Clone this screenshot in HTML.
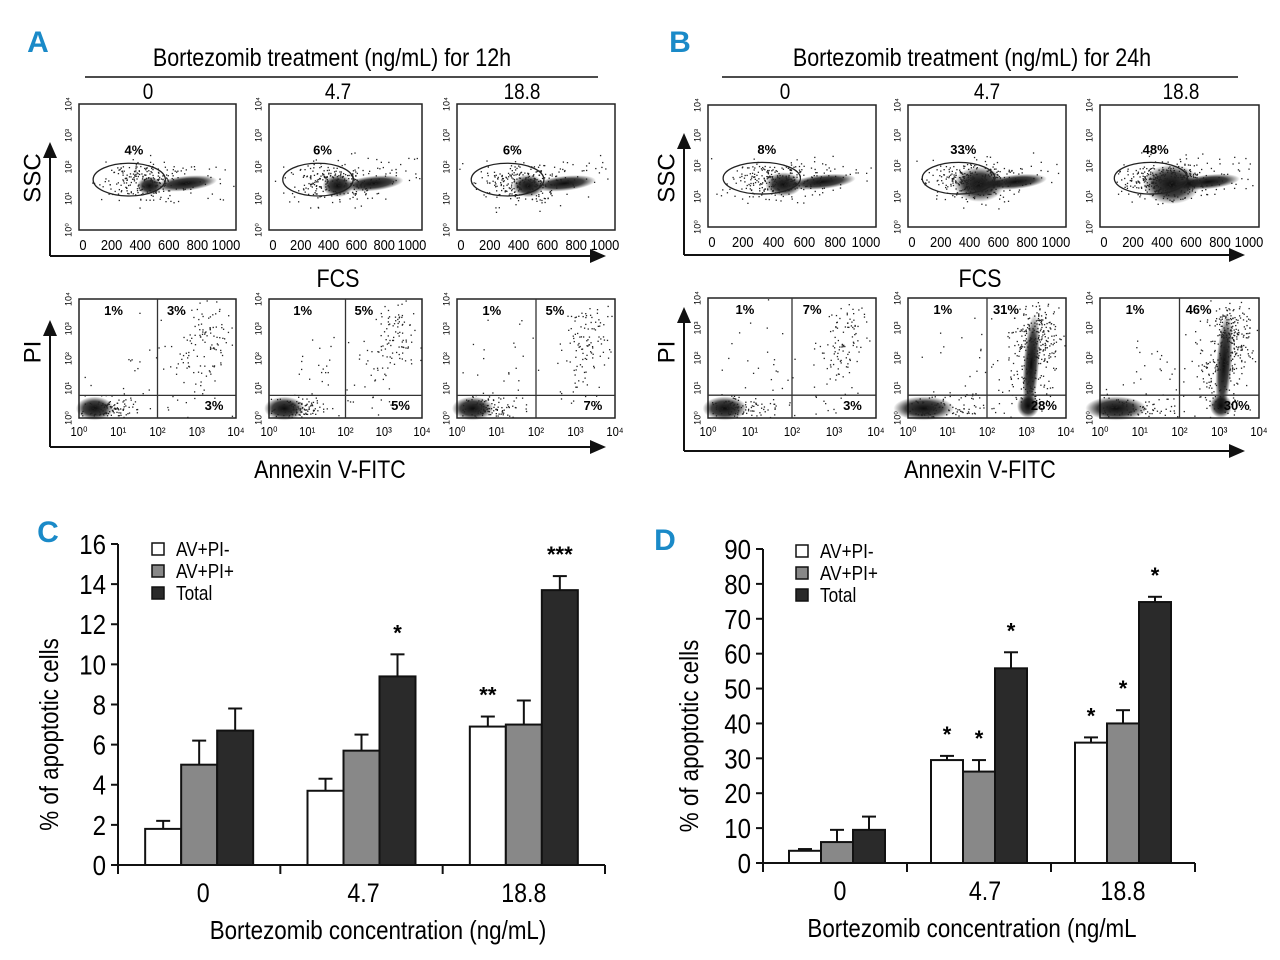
<!DOCTYPE html>
<html><head><meta charset="utf-8">
<style>
html,body{margin:0;padding:0;background:#fff;}
body{width:1280px;height:960px;overflow:hidden;position:relative;font-family:"Liberation Sans Narrow","Liberation Sans",sans-serif;}
svg{position:absolute;left:0;top:0;}
text{font-family:"Liberation Sans Narrow","Liberation Sans",sans-serif;}
</style></head>
<body>
<svg id="fig" width="1280" height="960" viewBox="0 0 1280 960">
<defs>
<radialGradient id="blob"><stop offset="0" stop-color="#000" stop-opacity="0.95"/><stop offset="0.6" stop-color="#000" stop-opacity="0.75"/><stop offset="1" stop-color="#000" stop-opacity="0"/></radialGradient>
</defs>
<g id="panels"></g>
<g id="chartC"></g>
<g id="chartD"></g>
</svg>
<script>
// ---------- bar chart data ----------
const categories = ["0","4.7","18.8"];
const seriesNames = ["AV+PI-","AV+PI+","Total"];
const cWhite = [1.8,3.7,6.9];
const cWhiteErr = [0.4,0.6,0.5];
const cGray = [5.0,5.7,7.0];
const cGrayErr = [1.2,0.8,1.2];
const cBlack = [6.7,9.4,13.7];
const cBlackErr = [1.1,1.1,0.7];
const cStars = [["","",""],["","","*"],["**","","***"]];
const cTicks = [0,2,4,6,8,10,12,14,16];
const dWhite = [3.5,29.5,34.5];
const dWhiteErr = [0.5,1.2,1.5];
const dGray = [6.0,26.2,40.0];
const dGrayErr = [3.5,3.3,3.8];
const dBlack = [9.5,55.8,74.8];
const dBlackErr = [3.8,4.6,1.5];
const dStars = [["","",""],["*","*","*"],["*","*","*"]];
const dTicks = [0,10,20,30,40,50,60,70,80,90];

const NS="http://www.w3.org/2000/svg";
function mk(parent,tag,attrs,txt){const e=document.createElementNS(NS,tag);for(const k in attrs)e.setAttribute(k,attrs[k]);if(txt!==undefined)e.textContent=txt;parent.appendChild(e);return e;}

function barChart(g,cfg){
  const {x0,x1,y0,y1,max,ticks,series,errs,stars,bw}=cfg;
  const yS=v=>y0-(v/max)*(y0-y1);
  const gw=(x1-x0)/categories.length;
  const fills=["#ffffff","#888888","#2a2a2a"];
  categories.forEach((c,ci)=>{
    const cx=x0+gw*(ci+0.5)+cfg.off[ci];
    series.forEach((s,si)=>{
      const bx=cx-1.5*bw+si*bw;
      const top=yS(s[ci]);
      const eTop=yS(s[ci]+errs[si][ci]);
      const ex=bx+bw/2;
      const el=mk(g,"line",{x1:ex,y1:top,x2:ex,y2:eTop,stroke:"#111","stroke-width":2});
      
      
      const cap=mk(g,"line",{x1:ex-7,y1:eTop,x2:ex+7,y2:eTop,stroke:"#111","stroke-width":2});
      
      
      const r=mk(g,"rect",{x:bx,y:top,width:bw,height:y0-top,fill:fills[si],stroke:"#111","stroke-width":2});
      
      
      if(stars[ci][si]){
        const t=mk(g,"text",{x:ex,y:eTop-14,"text-anchor":"middle","font-size":22,"font-weight":"bold"},stars[ci][si]);
        
        
      }
    });
    const lab=mk(g,"text",{x:x0+gw*(ci+0.5)+cfg.labOff[ci],y:y0+37,"text-anchor":"middle","font-size":27},c);
    
    
    const tk=mk(g,"line",{x1:x0+gw*(ci+1),y1:y0,x2:x0+gw*(ci+1),y2:y0+9,stroke:"#111","stroke-width":2});
    
    
  });
  const ya=mk(g,"line",{x1:x0,y1:y1,x2:x0,y2:y0+9,stroke:"#111","stroke-width":2});
  
  
  const xa=mk(g,"line",{x1:x0-7,y1:y0,x2:x1,y2:y0,stroke:"#111","stroke-width":2});
  
  
  ticks.forEach(t=>{
    const y=yS(t);
    const l=mk(g,"line",{x1:x0-7,y1:y,x2:x0,y2:y,stroke:"#111","stroke-width":2});
    
    
    const tx=mk(g,"text",{x:x0-12,y:y+10,"text-anchor":"end","font-size":28},t);
    
    
  });
  seriesNames.forEach((n,i)=>{
    const ly=cfg.legY+i*22;
    const s=mk(g,"rect",{x:cfg.legX,y:ly-6,width:12,height:12,fill:fills[i],stroke:"#111","stroke-width":1.5});
    
    
    const t=mk(g,"text",{x:cfg.legX+24,y:ly+7,"font-size":20},n);
    
    
  });
  const yt=mk(g,"text",{x:0,y:0,"text-anchor":"middle","font-size":26,"data-rot":"1",transform:`translate(${cfg.ytX},${(y0+y1)/2+30}) rotate(-90)`},"% of apoptotic cells");
  
  
  const xt=mk(g,"text",{x:cfg.xtX,y:y0+74,"text-anchor":"middle","font-size":26},cfg.xTitle);
  
  
}

barChart(document.getElementById("chartC"),{x0:118,x1:605,y0:865,y1:544,max:16,ticks:cTicks,
  series:[cWhite,cGray,cBlack],errs:[cWhiteErr,cGrayErr,cBlackErr],stars:cStars,bw:36,off:[0,0,0],labOff:[4,2,0],
  legX:152,legY:549,ytX:58,xtX:378,xTitle:"Bortezomib concentration (ng/mL)"});
barChart(document.getElementById("chartD"),{x0:763,x1:1195,y0:863,y1:549,max:90,ticks:dTicks,
  series:[dWhite,dGray,dBlack],errs:[dWhiteErr,dGrayErr,dBlackErr],stars:dStars,bw:32,off:[2,0,0],labOff:[5,6,0],
  legX:796,legY:551,ytX:698,xtX:972,xTitle:"Bortezomib concentration (ng/mL"});

// ---------- flow cytometry panels (decorative) ----------
const P=document.getElementById("panels");
function txt(x,y,s,size,opt){return mk(P,"text",Object.assign({x:x,y:y,"font-size":size,"text-anchor":"middle"},opt||{}),s);}
function arrowH(x1,x2,y){mk(P,"line",{x1:x1,y1:y,x2:x2-12,y2:y,stroke:"#111","stroke-width":2});mk(P,"polygon",{points:`${x2},${y} ${x2-16},${y-7} ${x2-16},${y+7}`,fill:"#111"});}
function arrowV(x,y1,y2){mk(P,"line",{x1:x,y1:y2,x2:x,y2:y1+12,stroke:"#111","stroke-width":2});mk(P,"polygon",{points:`${x},${y1} ${x-7},${y1+16} ${x+7},${y1+16}`,fill:"#111"});}
let seed=7;function rnd(){seed=(seed*16807)%2147483647;return seed/2147483647;}
function dots(cx,cy,sx,sy,n,box){for(let i=0;i<n;i++){const a=rnd()*6.283,r=Math.sqrt(-2*Math.log(rnd()+1e-6));let x=cx+Math.cos(a)*r*sx,y=cy+Math.sin(a)*r*sy;if(x<box[0]+1||x>box[0]+box[2]-1||y<box[1]+1||y>box[1]+box[3]-1)continue;mk(P,"rect",{x:x,y:y,width:1.3,height:1.3,fill:"#222"});}}
function blob(cx,cy,rx,ry,rot){mk(P,"ellipse",{cx:cx,cy:cy,rx:rx,ry:ry,fill:"url(#blob)",transform:`rotate(${rot||0} ${cx} ${cy})`});}
const bold={"font-weight":"bold","font-family":"Liberation Sans"};

function ssBox(x,y,w,h,pct,dens){
  const b=[x,y,w,h];
  const r=mk(P,"rect",{x:x,y:y,width:w,height:h,fill:"#fff",stroke:"#222","stroke-width":1.5});
  
  
  blob(x+w*0.68,y+h*0.63,w*0.2,h*0.06,-6);
  blob(x+w*0.45,y+h*0.65,w*0.1*dens,h*0.09*dens,0);
  dots(x+w*0.45,y+h*0.62,w*0.14,h*0.08,80+dens*120,b);
  dots(x+w*0.3,y+h*0.62,w*0.1,h*0.08,60,b);
  dots(x+w*0.75,y+h*0.55,w*0.18,h*0.08,30,b);
  mk(P,"ellipse",{cx:x+w*0.32,cy:y+h*0.6,rx:w*0.23,ry:h*0.13,fill:"none",stroke:"#222","stroke-width":1.3});
  txt(x+w*0.35,y+h*0.4,pct,13,bold);
  ["10⁰","10¹","10²","10³","10⁴"].forEach((s,i)=>{txt(x-10,y+h-i*h/4,s,9,{"data-rot":"1",transform:`rotate(-90 ${x-10} ${y+h-i*h/4})`,"dominant-baseline":"middle"});});
  ["0","200","400","600","800","1000"].forEach((s,i)=>txt(x+4+i*(w-14)/5,y+h+20,s,15));
}
function avBox(x,y,w,h,p,streak,tail){
  const b=[x,y,w,h];
  const r=mk(P,"rect",{x:x,y:y,width:w,height:h,fill:"#fff",stroke:"#222","stroke-width":1.5});
  
  
  const qy=y+h*0.81,qx=x+w*0.5;
  blob(x+w*0.1,y+h*0.92,w*0.12*tail,h*0.1,0);
  dots(x+w*0.18,y+h*0.92,w*0.1*tail,h*0.05,120,b);
  dots(x+w*0.4,y+h*0.6,w*0.15,h*0.2,30,b);
  if(streak){blob(x+w*0.78,y+h*0.55,w*0.05,h*0.42,4);blob(x+w*0.76,y+h*0.9,w*0.07,h*0.1,0);}
  dots(x+w*0.82,y+h*0.3,w*0.07,h*0.15,streak?200:80,b);
  dots(x+w*0.75,y+h*0.6,w*0.08,h*0.2,streak?150:40,b);
  mk(P,"line",{x1:x,y1:qy,x2:x+w,y2:qy,stroke:"#333","stroke-width":1.3});
  mk(P,"line",{x1:qx,y1:y,x2:qx,y2:y+h,stroke:"#333","stroke-width":1.3});
  txt(x+w*0.22,y+16,p[0],13,bold);
  txt(x+w*0.62,y+16,p[1],13,bold);
  txt(x+w*0.86,y+h-8,p[2],13,bold);
  ["10⁰","10¹","10²","10³","10⁴"].forEach((s,i)=>{txt(x-10,y+h-i*h/4,s,9,{"data-rot":"1",transform:`rotate(-90 ${x-10} ${y+h-i*h/4})`,"dominant-baseline":"middle"});});
  ["10⁰","10¹","10²","10³","10⁴"].forEach((s,i)=>txt(x+i*w/4,y+h+18,s,13));
}
// Panel A
txt(38,52,"A",30,{"font-weight":"bold",fill:"#1a8ac8","font-family":"Liberation Sans"});
txt(332,66,"Bortezomib treatment (ng/mL) for 12h",25);
mk(P,"line",{x1:85,y1:77,x2:598,y2:77,stroke:"#111","stroke-width":1.5});
[[148,"0"],[338,"4.7"],[522,"18.8"]].forEach(a=>txt(a[0],99,a[1],22));
ssBox(79,104,157,126,"4%",0.8);ssBox(269,104,153,126,"6%",1);ssBox(457,104,158,126,"6%",1);
arrowH(50,606,256);arrowV(50,142,256);
txt(34,178,"SSC",24,{"data-rot":"1",transform:"rotate(-90 34 178)","dominant-baseline":"middle"});
txt(338,287,"FCS",25);
avBox(79,299,157,119,["1%","3%","3%"],false,1);avBox(269,299,153,119,["1%","5%","5%"],false,1.1);avBox(457,299,158,119,["1%","5%","7%"],false,1.1);
arrowH(50,606,447);arrowV(50,320,447);
txt(34,352,"PI",24,{"data-rot":"1",transform:"rotate(-90 34 352)","dominant-baseline":"middle"});
txt(330,478,"Annexin V-FITC",25);
// Panel B
txt(680,52,"B",30,{"font-weight":"bold",fill:"#1a8ac8","font-family":"Liberation Sans"});
txt(972,66,"Bortezomib treatment (ng/mL) for 24h",25);
mk(P,"line",{x1:722,y1:77,x2:1238,y2:77,stroke:"#111","stroke-width":1.5});
[[785,"0"],[987,"4.7"],[1181,"18.8"]].forEach(a=>txt(a[0],99,a[1],22));
ssBox(708,105,168,122,"8%",1.1);ssBox(908,105,158,122,"33%",1.6);ssBox(1100,105,159,122,"48%",1.8);
arrowH(684,1245,255);arrowV(684,133,255);
txt(668,178,"SSC",24,{"data-rot":"1",transform:"rotate(-90 668 178)","dominant-baseline":"middle"});
txt(980,287,"FCS",25);
avBox(708,298,168,120,["1%","7%","3%"],false,1.1);avBox(908,298,158,120,["1%","31%","28%"],true,1.6);avBox(1100,298,159,120,["1%","46%","30%"],true,1.6);
arrowH(684,1245,451);arrowV(684,307,451);
txt(668,352,"PI",24,{"data-rot":"1",transform:"rotate(-90 668 352)","dominant-baseline":"middle"});
txt(980,478,"Annexin V-FITC",25);
txt(48,542,"C",30,{"font-weight":"bold",fill:"#1a8ac8","font-family":"Liberation Sans"});
txt(665,550,"D",30,{"font-weight":"bold",fill:"#1a8ac8","font-family":"Liberation Sans"});

// condense text horizontally to mimic a narrow typeface
const SX=0.86;
document.querySelectorAll("text").forEach(t=>{
  if(t.getAttribute("font-weight")==="bold")return;
  const tr=t.getAttribute("transform");
  if(t.getAttribute("data-rot")){
    if(tr && tr.indexOf("translate")===0) t.setAttribute("transform",tr+` scale(${SX},1)`);
    return;
  }
  const x=parseFloat(t.getAttribute("x"));
  t.setAttribute("transform",`translate(${x},0) scale(${SX},1) translate(${-x},0)`);
});
</script>
</body></html>
